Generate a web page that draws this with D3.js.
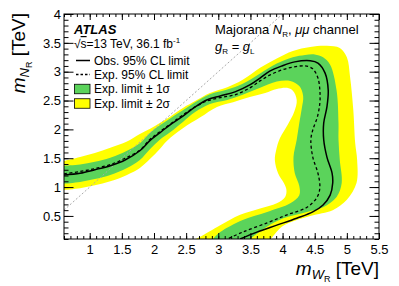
<!DOCTYPE html>
<html>
<head>
<meta charset="utf-8">
<script src="https://cdn.jsdelivr.net/npm/d3@7"></script>
<style>
html,body{margin:0;padding:0;background:#fff;}
svg{display:block;font-family:"Liberation Sans",Arial,Helvetica,sans-serif;}
</style>
</head>
<body>
<svg id="chart" width="399" height="286"></svg>
<script>
// ---- data (mW_R [TeV], mN_R [TeV]) ----
const obsLimit = [[0.60,1.21],[0.85,1.24],[1.08,1.30],[1.32,1.37],[1.55,1.47],[1.78,1.63],[1.94,1.81],[2.09,1.94],[2.25,2.08],[2.45,2.23],[2.64,2.39],[2.82,2.51],[3.03,2.58],[3.26,2.65],[3.49,2.77],[3.65,2.89],[3.80,3.01],[3.99,3.10],[4.19,3.17],[4.43,3.19],[4.55,3.15],[4.66,2.98],[4.71,2.68],[4.69,2.39],[4.64,2.11],[4.64,1.82],[4.69,1.52],[4.77,1.24],[4.78,1.07],[4.74,0.86],[4.63,0.69],[4.47,0.57],[4.22,0.46],[3.91,0.34],[3.60,0.22],[3.34,0.10]];
const expLimit = [[0.60,1.23],[0.85,1.27],[1.08,1.32],[1.32,1.39],[1.55,1.50],[1.78,1.64],[1.94,1.83],[2.09,1.96],[2.25,2.09],[2.45,2.25],[2.64,2.39],[2.82,2.49],[3.03,2.55],[3.26,2.60],[3.49,2.72],[3.65,2.84],[3.80,2.94],[3.99,3.03],[4.16,3.08],[4.35,3.10],[4.47,3.05],[4.55,2.89],[4.58,2.68],[4.58,2.46],[4.54,2.21],[4.47,1.99],[4.44,1.82],[4.47,1.52],[4.55,1.24],[4.58,1.00],[4.54,0.83],[4.38,0.65],[4.07,0.52],[3.76,0.38],[3.38,0.22],[3.14,0.10]];
const plus2Sigma = [[0.60,1.45],[0.85,1.52],[1.08,1.59],[1.32,1.68],[1.58,1.79],[1.78,1.92],[1.94,2.01],[2.09,2.11],[2.25,2.22],[2.45,2.37],[2.64,2.49],[2.87,2.63],[3.14,2.73],[3.38,2.86],[3.65,3.07],[3.91,3.23],[4.16,3.36],[4.43,3.43],[4.69,3.45],[4.89,3.41],[5.00,3.25],[5.05,2.91],[5.10,2.34],[5.13,1.76],[5.16,1.47],[5.15,1.07],[5.00,0.78],[4.78,0.60],[4.43,0.50],[4.01,0.33],[3.82,0.10]];
const plus1Sigma = [[0.60,1.37],[0.85,1.39],[1.08,1.44],[1.32,1.51],[1.58,1.63],[1.78,1.76],[1.94,1.94],[2.09,2.07],[2.25,2.19],[2.45,2.33],[2.64,2.47],[2.87,2.61],[3.14,2.69],[3.38,2.79],[3.65,2.97],[3.91,3.14],[4.16,3.25],[4.35,3.29],[4.50,3.30],[4.63,3.25],[4.74,3.12],[4.84,2.68],[4.87,2.11],[4.87,1.82],[4.89,1.47],[4.92,1.07],[4.84,0.83],[4.63,0.65],[4.38,0.57],[4.01,0.46],[3.75,0.31],[3.49,0.10]];
const minus1Sigma = [[0.60,1.06],[0.85,1.09],[1.08,1.14],[1.32,1.21],[1.58,1.33],[1.78,1.47],[1.94,1.66],[2.09,1.82],[2.25,1.95],[2.45,2.13],[2.64,2.30],[2.87,2.44],[3.14,2.51],[3.38,2.60],[3.65,2.72],[3.91,2.83],[4.12,2.84],[4.26,2.75],[4.32,2.58],[4.30,2.37],[4.26,2.11],[4.22,1.82],[4.17,1.52],[4.19,1.24],[4.26,1.02],[4.26,0.86],[4.12,0.72],[3.76,0.57],[3.38,0.43],[3.03,0.22],[2.92,0.10]];
const minus2Sigma = [[0.60,0.95],[0.85,0.98],[1.08,1.03],[1.32,1.10],[1.58,1.21],[1.78,1.33],[1.94,1.49],[2.09,1.66],[2.20,1.80],[2.45,2.02],[2.72,2.21],[2.98,2.39],[3.23,2.47],[3.49,2.56],[3.73,2.63],[3.91,2.70],[4.07,2.72],[4.16,2.67],[4.22,2.51],[4.18,2.30],[4.08,2.08],[3.96,1.85],[3.90,1.64],[3.88,1.47],[3.93,1.24],[4.02,1.07],[4.06,0.95],[4.04,0.83],[3.91,0.72],[3.65,0.63],[3.34,0.52],[3.03,0.34],[2.72,0.14],[2.65,0.10]];
const diagonal = [[0.6,0.6],[4.0,4.0]];
const xMajorTicks = [1,1.5,2,2.5,3,3.5,4,4.5,5,5.5];
const yMajorTicks = [0.5,1,1.5,2,2.5,3,3.5,4];
const xMinorTicks = d3.range(6,56).map(d=>d/10);
const yMinorTicks = d3.range(1,41).map(d=>d/10);
const legendLabels = ["Obs. 95% CL limit","Exp. 95% CL limit","Exp. limit \u00B1 1\u03C3","Exp. limit \u00B1 2\u03C3"];

// ---- layout ----
const L=64,R=379,T=14,B=239;
const x = d3.scaleLinear().domain([0.6,5.5]).range([L,R]);
const y = d3.scaleLinear().domain([0.1,4]).range([B,T]);
const svg = d3.select("#chart");
svg.append("rect").attr("width",399).attr("height",286).attr("fill","#fff");

svg.append("clipPath").attr("id","clip").append("rect")
  .attr("x",L).attr("y",T).attr("width",R-L).attr("height",B-T);
const plot = svg.append("g").attr("clip-path","url(#clip)");

const line = d3.line().x(d=>x(d[0])).y(d=>y(d[1])).curve(d3.curveCatmullRom.alpha(0.5));
function band(up, dn){
  const a = line(up), b = line(dn.slice().reverse());
  return a + "L" + b.slice(1) + "Z";
}
const YELLOW="#ffff00", GREEN="#5bd35b";
plot.append("path").attr("d",band(plus2Sigma,minus2Sigma)).attr("fill",YELLOW);
plot.append("path").attr("d",band(plus1Sigma,minus1Sigma)).attr("fill",GREEN);
plot.append("path").attr("d",d3.line().x(d=>x(d[0])).y(d=>y(d[1]))(diagonal))
  .attr("fill","none").attr("stroke","#aaaaaa").attr("stroke-width",1).attr("stroke-dasharray","2,2");
plot.append("path").attr("d",line(expLimit)).attr("fill","none").attr("stroke","#000")
  .attr("stroke-width",1.3).attr("stroke-dasharray","3,2.5");
plot.append("path").attr("d",line(obsLimit)).attr("fill","none").attr("stroke","#000")
  .attr("stroke-width",1.5);

// ---- axes ----
function styleAxis(g){ g.select(".domain").remove(); g.selectAll("line").attr("stroke","#000"); }
const fontTick = 13;
const fmt = d3.format("~g");
svg.append("g").attr("transform",`translate(0,${B})`)
  .call(d3.axisBottom(x).tickValues(xMinorTicks).tickSize(-3).tickFormat("")).call(styleAxis);
svg.append("g").attr("transform",`translate(0,${B})`)
  .call(d3.axisBottom(x).tickValues(xMajorTicks).tickSize(-6).tickPadding(6).tickFormat(fmt)).call(styleAxis)
  .selectAll("text").attr("font-size",fontTick).attr("font-family","Liberation Sans, Arial").attr("fill","#000");
svg.append("g").attr("transform",`translate(0,${T})`)
  .call(d3.axisTop(x).tickValues(xMinorTicks).tickSize(-3).tickFormat("")).call(styleAxis);
svg.append("g").attr("transform",`translate(0,${T})`)
  .call(d3.axisTop(x).tickValues(xMajorTicks).tickSize(-6).tickFormat("")).call(styleAxis);
svg.append("g").attr("transform",`translate(${L},0)`)
  .call(d3.axisLeft(y).tickValues(yMinorTicks).tickSize(-4.5).tickFormat("")).call(styleAxis);
svg.append("g").attr("transform",`translate(${L},0)`)
  .call(d3.axisLeft(y).tickValues(yMajorTicks).tickSize(-9.5).tickPadding(3).tickFormat(fmt)).call(styleAxis)
  .selectAll("text").attr("font-size",fontTick).attr("font-family","Liberation Sans, Arial").attr("fill","#000");
svg.append("g").attr("transform",`translate(${R},0)`)
  .call(d3.axisRight(y).tickValues(yMinorTicks).tickSize(-4.5).tickFormat("")).call(styleAxis);
svg.append("g").attr("transform",`translate(${R},0)`)
  .call(d3.axisRight(y).tickValues(yMajorTicks).tickSize(-9.5).tickFormat("")).call(styleAxis);
svg.append("rect").attr("x",L).attr("y",T).attr("width",R-L).attr("height",B-T)
  .attr("fill","none").attr("stroke","#000").attr("stroke-width",1);

// ---- axis titles ----
function massTitle(t, sub){
  t.append("tspan").attr("font-style","italic").text("m");
  t.append("tspan").attr("font-style","italic").attr("font-size",13).attr("dy",4).text(sub);
  t.append("tspan").attr("font-size",9).attr("dy",3).text("R");
  t.append("tspan").attr("dy",-7).text(" [TeV]");
}
svg.append("text").attr("x",R).attr("y",275).attr("text-anchor","end").attr("font-size",19)
  .call(massTitle,"W");
svg.append("text").attr("transform",`translate(25,${T-1}) rotate(-90)`).attr("text-anchor","end")
  .attr("font-size",19).call(massTitle,"N");

// ---- labels & legend ----
svg.append("text").attr("x",74).attr("y",34).attr("font-size",13).attr("font-weight","bold")
  .attr("font-style","italic").text("ATLAS");
const e = svg.append("text").attr("x",74).attr("y",48).attr("font-size",12);
e.append("tspan").text("\u221A");
e.append("tspan").attr("style","text-decoration:overline").text("s");
e.append("tspan").text("=13 TeV, 36.1 fb");
e.append("tspan").attr("font-size",8).attr("dy",-5).text("-1");

const legY = [60.5,74.5,89,103.5];
svg.append("line").attr("x1",76).attr("x2",90).attr("y1",legY[0]).attr("y2",legY[0])
  .attr("stroke","#000").attr("stroke-width",1.5);
svg.append("line").attr("x1",76).attr("x2",90).attr("y1",legY[1]).attr("y2",legY[1])
  .attr("stroke","#000").attr("stroke-width",1.3).attr("stroke-dasharray","2.5,2");
svg.append("rect").attr("x",74.5).attr("y",legY[2]-4.75).attr("width",15.5).attr("height",9.5)
  .attr("fill",GREEN).attr("stroke","#000").attr("stroke-width",0.8);
svg.append("rect").attr("x",74.5).attr("y",legY[3]-4.75).attr("width",15.5).attr("height",9.5)
  .attr("fill",YELLOW).attr("stroke","#000").attr("stroke-width",0.8);
legendLabels.forEach((s,i)=>{
  svg.append("text").attr("x",94).attr("y",legY[i]+4.2).attr("font-size",12).text(s);
});

const m = svg.append("text").attr("x",215).attr("y",34.3).attr("font-size",13);
m.append("tspan").text("Majorana ");
m.append("tspan").attr("font-style","italic").text("N");
m.append("tspan").attr("font-size",8).attr("dy",3).text("R");
m.append("tspan").attr("dy",-3).text(", ");
m.append("tspan").attr("font-style","italic").text("\u03BC\u03BC");
m.append("tspan").text(" channel");

const g = svg.append("text").attr("x",215).attr("y",51).attr("font-size",13);
g.append("tspan").attr("font-style","italic").text("g");
g.append("tspan").attr("font-size",8).attr("dy",3).text("R");
g.append("tspan").attr("dy",-3).text(" = ");
g.append("tspan").attr("font-style","italic").text("g");
g.append("tspan").attr("font-size",8).attr("dy",3).text("L");
</script>
</body>
</html>
